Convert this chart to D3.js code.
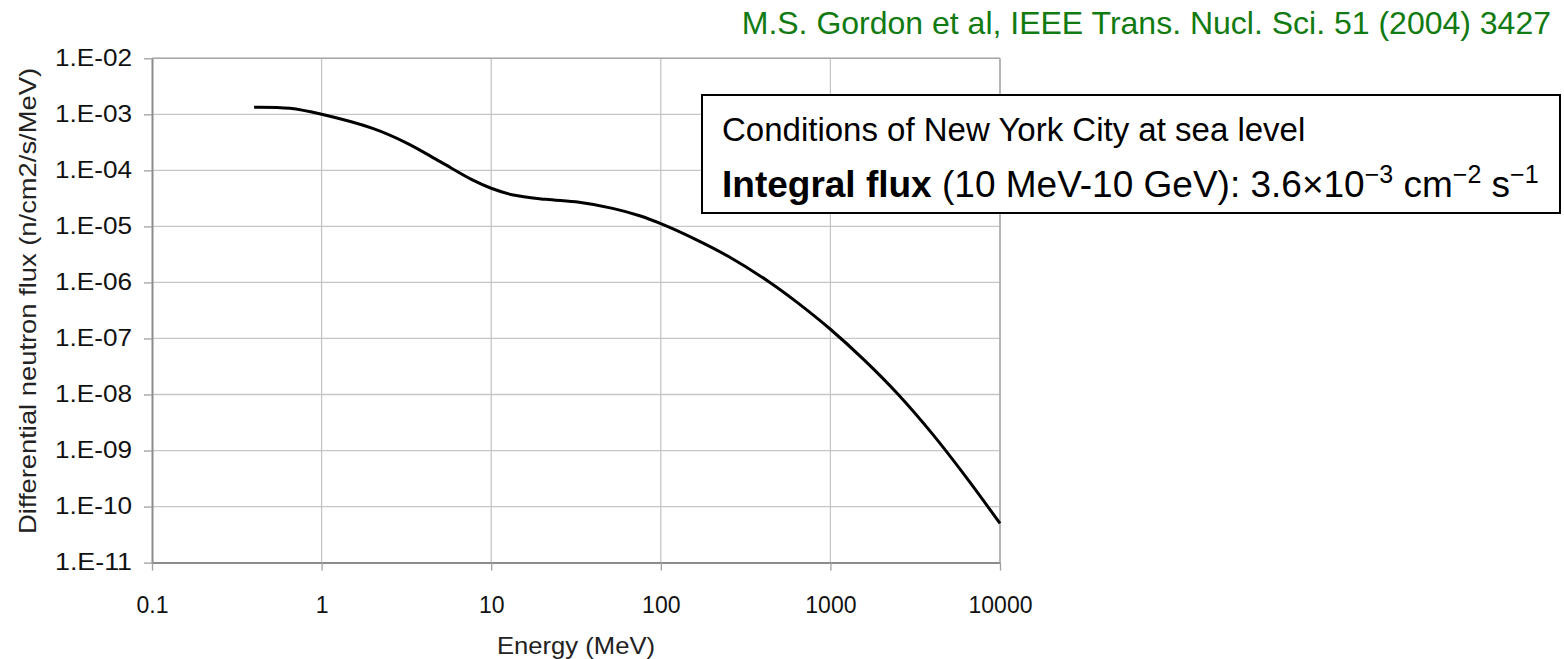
<!DOCTYPE html>
<html>
<head>
<meta charset="utf-8">
<script src="https://cdn.jsdelivr.net/npm/d3@7"></script>
<style>
  body { margin: 0; background: #fff; }
  svg { display: block; }
  text { font-family: "Liberation Sans", Arial, sans-serif; }
</style>
</head>
<body>
<script>
// neutron spectrum (MeV, n/cm2/s/MeV)
var energy = [0.4, 0.65, 1, 2, 3.2, 5, 7.8, 10, 13.5, 21, 33, 52, 75, 100, 158, 251, 440, 631, 1000, 1585, 2512, 3981, 6310, 10000];
var flux = [1.34e-3, 1.28e-3, 1.0e-3, 5.6e-4, 3.04e-4, 1.43e-4, 6.7e-5, 4.8e-5, 3.63e-5, 3.04e-5, 2.69e-5, 2.1e-5, 1.55e-5, 1.12e-5, 6.0e-6, 2.9e-6, 1.0e-6, 4.5e-7, 1.46e-7, 4.1e-8, 1.0e-8, 2.0e-9, 3.35e-10, 5.0e-11];

var xTicks = [0.1, 1, 10, 100, 1000, 10000];
var yTicks = [1e-2, 1e-3, 1e-4, 1e-5, 1e-6, 1e-7, 1e-8, 1e-9, 1e-10, 1e-11];

var W = 1564, H = 659;
var margin = {top: 58.3, left: 152},
    width = 848,
    height = 504.3;

var svg = d3.select('body').append('svg')
    .attr('width', W)
    .attr('height', H);

var g = svg.append('g')
    .attr('transform', 'translate(' + margin.left + ',' + margin.top + ')');

var x = d3.scaleLog().domain([0.1, 10000]).range([0, width]);
var y = d3.scaleLog().domain([1e-11, 1e-2]).range([height, 0]);

// grid
g.selectAll('.vgrid').data(xTicks.slice(1))
  .enter().append('line')
    .attr('x1', function(d) { return x(d); })
    .attr('x2', function(d) { return x(d); })
    .attr('y1', 0).attr('y2', height)
    .style('stroke', '#c6c6c6').style('stroke-width', 1.3);

g.selectAll('.hgrid').data(yTicks.slice(0, -1))
  .enter().append('line')
    .attr('x1', 0).attr('x2', width)
    .attr('y1', function(d) { return y(d); })
    .attr('y2', function(d) { return y(d); })
    .style('stroke', '#c6c6c6').style('stroke-width', 1.3);

// axes
function yFmt(d) {
  var e = Math.round(Math.log10(d));
  return '1.E-' + (e > -10 ? '0' : '') + (-e);
}

var yAxis = g.append('g')
    .call(d3.axisLeft(y).tickValues(yTicks).tickFormat(yFmt).tickSize(8).tickPadding(12).tickSizeOuter(0));
var xAxis = g.append('g')
    .attr('transform', 'translate(0,' + height + ')')
    .call(d3.axisBottom(x).tickValues(xTicks).tickFormat(function(d) { return String(d); }).tickSize(8).tickPadding(26).tickSizeOuter(0));

[yAxis, xAxis].forEach(function(a) {
  a.select('.domain').style('stroke', '#8c8c8c').style('stroke-width', 2);
  a.selectAll('.tick line').style('stroke', '#a0a0a0').style('stroke-width', 1.3);
  a.selectAll('.tick text').style('font-size', '23px').style('fill', '#111')
    .style('font-family', '"Liberation Sans", Arial, sans-serif');
});
yAxis.selectAll('.tick text')
    .attr('textLength', 77)
    .attr('lengthAdjust', 'spacingAndGlyphs');

// top and right frame
g.append('line').attr('x1', 0).attr('x2', width).attr('y1', 0).attr('y2', 0)
  .style('stroke', '#a8a8a8').style('stroke-width', 1.5);
g.append('line').attr('x1', width).attr('x2', width).attr('y1', 0).attr('y2', height)
  .style('stroke', '#a8a8a8').style('stroke-width', 1.5);

// curve
var line = d3.line()
    .x(function(d, i) { return x(energy[i]); })
    .y(function(d, i) { return y(flux[i]); })
    .curve(d3.curveCatmullRom.alpha(0.5));

g.append('path')
    .datum(energy)
    .attr('d', line)
    .style('fill', 'none')
    .style('stroke', '#000')
    .style('stroke-width', 3);

// axis titles
svg.append('text')
    .attr('x', 576).attr('y', 654)
    .style('text-anchor', 'middle')
    .style('font-size', '24px')
    .style('fill', '#222')
    .attr('textLength', 158)
    .attr('lengthAdjust', 'spacingAndGlyphs')
    .text('Energy (MeV)');

svg.append('text')
    .attr('transform', 'translate(36,301) rotate(-90)')
    .style('text-anchor', 'middle')
    .style('font-size', '24px')
    .style('fill', '#222')
    .attr('textLength', 466)
    .attr('lengthAdjust', 'spacingAndGlyphs')
    .text('Differential neutron flux (n/cm2/s/MeV)');

// citation
svg.append('text')
    .attr('x', 1551).attr('y', 34)
    .style('text-anchor', 'end')
    .style('font-size', '32px')
    .style('fill', '#117a11')
    .text('M.S. Gordon et al, IEEE Trans. Nucl. Sci. 51 (2004) 3427');

// note box
svg.append('rect')
    .attr('x', 702).attr('y', 95)
    .attr('width', 858).attr('height', 118)
    .style('fill', '#fff')
    .style('stroke', '#000')
    .style('stroke-width', 2);

svg.append('text')
    .attr('x', 722).attr('y', 141)
    .style('font-size', '33px')
    .text('Conditions of New York City at sea level');

var t2 = svg.append('text')
    .attr('x', 722).attr('y', 197)
    .style('font-size', '37px');
t2.append('tspan').style('font-weight', 'bold').text('Integral flux');
t2.append('tspan').text(' (10 MeV-10 GeV): 3.6\u00d710');
t2.append('tspan').attr('dy', -14).style('font-size', '25px').text('\u22123');
t2.append('tspan').attr('dy', 14).text(' cm');
t2.append('tspan').attr('dy', -14).style('font-size', '25px').text('\u22122');
t2.append('tspan').attr('dy', 14).text(' s');
t2.append('tspan').attr('dy', -14).style('font-size', '25px').text('\u22121');
</script>
</body>
</html>
